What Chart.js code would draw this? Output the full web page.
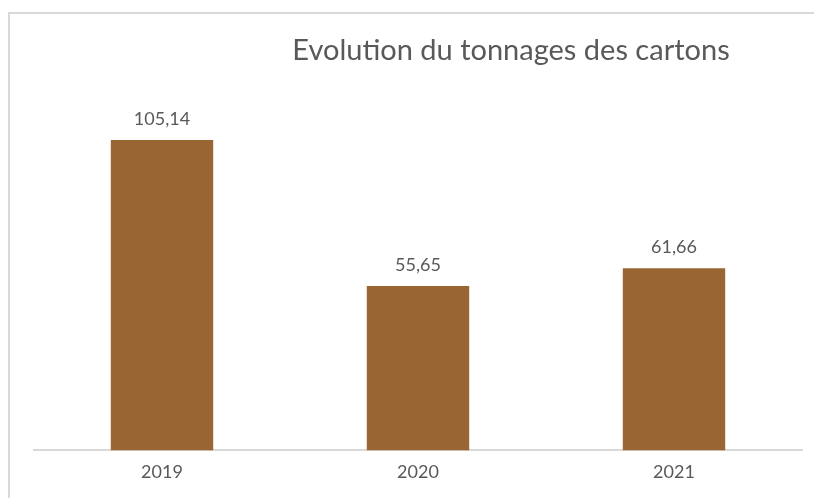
<!DOCTYPE html>
<html>
<head>
<meta charset="utf-8">
<script src="https://cdn.jsdelivr.net/npm/chart.js@4"></script>
<style>
  html, body { margin: 0; padding: 0; background: #fff; overflow: hidden; }
  #frame {
    position: absolute; left: 8px; top: 12px; width: 830px; height: 520px;
    border: 2px solid #d9d9d9; box-sizing: border-box;
  }
  #title {
    position: absolute; left: 261px; top: 31px; width: 500px; text-align: center;
    font-family: Lato, sans-serif; font-size: 29px; color: #595959; white-space: nowrap;
  }
  canvas { position: absolute; left: 0; top: 0; }
</style>
</head>
<body>
<div id="frame"></div>
<canvas id="chart" width="814" height="498"></canvas>
<div id="title">Evolution du tonnages des cartons</div>
<script>
// Chart data
const years = ['2019', '2020', '2021'];
const tonnages = [105.14, 55.65, 61.66];

// Draws the values above each bar, with a French decimal comma
const valueLabels = {
    id: 'valueLabels',
    afterDatasetsDraw(chart) {
        const ctx = chart.ctx;
        const meta = chart.getDatasetMeta(0);
        ctx.save();
        ctx.font = '18px Lato, sans-serif';
        ctx.fillStyle = '#595959';
        ctx.textAlign = 'center';
        ctx.textBaseline = 'middle';
        meta.data.forEach((bar, i) => {
            const text = tonnages[i].toFixed(2).replace('.', ',');
            ctx.fillText(text, bar.x, bar.y - 21);
        });
        ctx.restore();
    }
};

new Chart(document.getElementById('chart'), {
    type: 'bar',
    data: {
        labels: years,
        datasets: [{
            data: tonnages,
            backgroundColor: '#996633',
            borderWidth: 0,
            barPercentage: 0.4,
            categoryPercentage: 1
        }]
    },
    options: {
        responsive: false,
        animation: false,
        layout: {
            padding: { left: 34, right: 12, top: 96, bottom: 4 }
        },
        plugins: {
            legend: { display: false },
            title: { display: false },
            tooltip: { enabled: false }
        },
        scales: {
            x: {
                grid: { display: false, drawTicks: false },
                border: { display: true, color: '#d9d9d9', width: 2 },
                ticks: {
                    padding: 11,
                    color: '#595959',
                    font: { family: 'Lato, sans-serif', size: 18 }
                }
            },
            y: {
                display: false,
                min: 0,
                max: 120
            }
        }
    },
    plugins: [valueLabels]
});
</script>
</body>
</html>
